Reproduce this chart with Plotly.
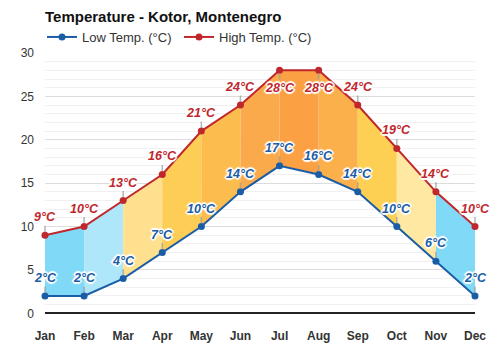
import plotly.graph_objects as go

months = ["Jan", "Feb", "Mar", "Apr", "May", "Jun", "Jul", "Aug", "Sep", "Oct", "Nov", "Dec"]
low_temp = [2, 2, 4, 7, 10, 14, 17, 16, 14, 10, 6, 2]
high_temp = [9, 10, 13, 16, 21, 24, 28, 28, 24, 19, 14, 10]
segment_colors = ["#80d9f7", "#ade7f9", "#ffe08e", "#fdcd55", "#fdbd4e", "#fbaa4b",
                  "#fba043", "#fcb04c", "#fdcf52", "#fee8a2", "#80d9f7"]

FONT = "Liberation Sans, Arial, sans-serif"
LOW_C = "#1a5da6"
HIGH_C = "#c0272d"
H = 350
W = 500

x = list(range(len(months)))
fig = go.Figure()

for i in range(len(months) - 1):
    fig.add_trace(go.Scatter(
        x=[x[i], x[i + 1], x[i + 1], x[i], x[i]],
        y=[high_temp[i], high_temp[i + 1], low_temp[i + 1], low_temp[i], high_temp[i]],
        fill="toself", fillcolor=segment_colors[i], mode="none",
        showlegend=False, hoverinfo="skip"))

fig.add_trace(go.Scatter(x=x, y=low_temp, name="Low Temp. (°C)", mode="lines+markers",
                         line=dict(color=LOW_C, width=2), marker=dict(size=7, color=LOW_C),
                         cliponaxis=False))
fig.add_trace(go.Scatter(x=x, y=high_temp, name="High Temp. (°C)", mode="lines+markers",
                         line=dict(color=HIGH_C, width=2), marker=dict(size=7, color=HIGH_C),
                         cliponaxis=False))

halo = ("1px 1px 1px #fff, -1px -1px 1px #fff, 1px -1px 1px #fff, -1px 1px 1px #fff, "
        "0 2px 1px #fff, 0 -2px 1px #fff, 2px 0 1px #fff, -2px 0 1px #fff")

def add_labels(vals, color, below_top=False):
    for i, v in enumerate(vals):
        ay = -18
        if below_top and v >= 27:
            ay = 18
        fig.add_annotation(x=x[i], y=v, text=f"{v}°C", showarrow=True, arrowhead=0,
                           arrowwidth=1.5, arrowcolor="rgba(150,150,150,0.7)", ax=0, ay=ay,
                           standoff=3,
                           font=dict(family=FONT, size=12.5, color=color, weight="bold",
                                     style="italic", shadow=halo))

add_labels(high_temp, HIGH_C, below_top=True)
add_labels(low_temp, LOW_C)

fig.update_layout(
    width=W, height=H,
    margin=dict(l=45, r=25, t=53, b=28, autoexpand=False),
    paper_bgcolor="white", plot_bgcolor="white",
    font=dict(family=FONT, size=12, color="#333"),
    title=dict(text="<b>Temperature - Kotor, Montenegro</b>", x=45 / W, xref="container", xanchor="left",
               y=1 - 17 / H, yref="container", yanchor="middle", font=dict(size=15, color="#111")),
    legend=dict(orientation="h", x=42 / W, xanchor="left", xref="container", y=1 - 37 / H, yref="container",
                yanchor="middle", font=dict(size=13, color="#333"), itemwidth=30,
                entrywidth=92, entrywidthmode="pixels",
                bgcolor="rgba(0,0,0,0)"),
    showlegend=True,
)
fig.update_xaxes(range=[0, 11], tickvals=x, ticktext=[f"<b>{m}</b>" for m in months],
                 showgrid=False, zeroline=False, showline=False, ticks="",
                 ticklabelstandoff=5, tickfont=dict(size=12, color="#333"))
fig.update_yaxes(range=[-1, 30], tickvals=[0, 5, 10, 15, 20, 25, 30], showgrid=True,
                 gridcolor="#dcdcdc", gridwidth=1,
                 minor=dict(dtick=1, tick0=0, showgrid=True, gridcolor="#f0f0f0", gridwidth=1),
                 zeroline=True, zerolinecolor="#222", zerolinewidth=1.5,
                 ticks="", ticklabelstandoff=10, tickfont=dict(size=12, color="#333"))

fig.write_html("out.html")
